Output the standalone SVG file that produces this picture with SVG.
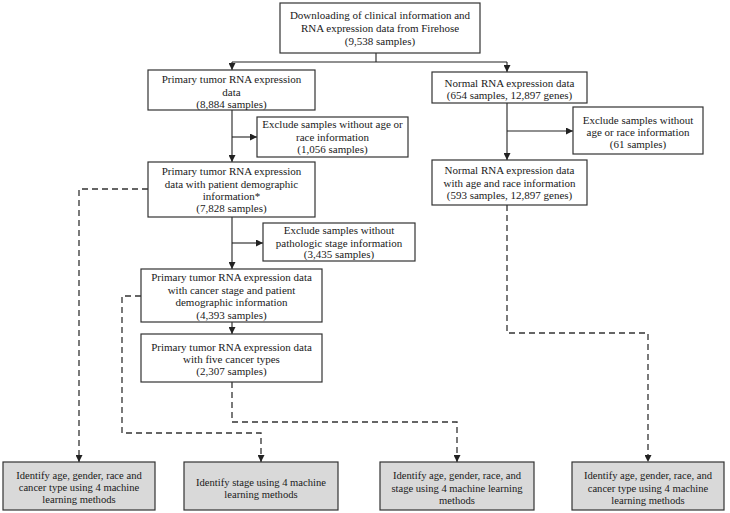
<svg xmlns="http://www.w3.org/2000/svg" width="730" height="513" viewBox="0 0 730 513">
<defs>
<marker id="ah" markerUnits="userSpaceOnUse" markerWidth="7" markerHeight="7" refX="7" refY="3.5" orient="auto">
<path d="M0,0 L7,3.5 L0,7 z" fill="#222"/>
</marker>
<style>
.b{fill:#fff;stroke:#333;stroke-width:1.2}
.g{fill:#d9d9d9;stroke:#333;stroke-width:1.2}
text{font-family:"Liberation Serif","Times New Roman",serif;font-size:11px;fill:#1a1a1a;text-anchor:middle}
.o text{font-size:10.6px}
.s{fill:none;stroke:#222;stroke-width:1.1}
.d{fill:none;stroke:#333;stroke-width:1.3;stroke-dasharray:6,4}
</style>
</defs>
<rect width="730" height="513" fill="#fff"/>
<g id="connectors">
<path class="s" d="M376,53 V62 M232,62 H507"/>
<path class="s" d="M232,62 V70" marker-end="url(#ah)"/>
<path class="s" d="M507,62 V72" marker-end="url(#ah)"/>
<path class="s" d="M232,110 V162" marker-end="url(#ah)"/>
<path class="s" d="M232,137 H257" marker-end="url(#ah)"/>
<path class="s" d="M232,217 V269" marker-end="url(#ah)"/>
<path class="s" d="M232,243 H263" marker-end="url(#ah)"/>
<path class="s" d="M232,322 V334" marker-end="url(#ah)"/>
<path class="s" d="M507,103 V160" marker-end="url(#ah)"/>
<path class="s" d="M507,131 H573" marker-end="url(#ah)"/>
<path class="d" d="M148,189 H79 V462" marker-end="url(#ah)"/>
<path class="d" d="M141,296 H122 V433 H261 V462" marker-end="url(#ah)"/>
<path class="d" d="M232,382 V422 H457 V462" marker-end="url(#ah)"/>
<path class="d" d="M507,205 V333 H648 V462" marker-end="url(#ah)"/>
</g>
<g id="n-download">
<rect class="b" x="280" y="3" width="200" height="50"/>
<text x="380" y="19">Downloading of clinical information and</text>
<text x="380" y="32">RNA expression data from Firehose</text>
<text x="380" y="45">(9,538 samples)</text>
</g>
<g id="n-primary">
<rect class="b" x="148" y="70" width="167" height="40"/>
<text x="231.5" y="83">Primary tumor RNA expression</text>
<text x="231.5" y="96">data</text>
<text x="231.5" y="108">(8,884 samples)</text>
</g>
<g id="n-excl1">
<rect class="b" x="257" y="117" width="151" height="40"/>
<text x="332.5" y="128">Exclude samples without age or</text>
<text x="332.5" y="141">race information</text>
<text x="332.5" y="153">(1,056 samples)</text>
</g>
<g id="n-primary-demo">
<rect class="b" x="148" y="162" width="167" height="55"/>
<text x="231.5" y="175">Primary tumor RNA expression</text>
<text x="231.5" y="188">data with patient demographic</text>
<text x="231.5" y="200">information*</text>
<text x="231.5" y="212">(7,828 samples)</text>
</g>
<g id="n-excl3">
<rect class="b" x="263" y="223" width="152" height="38"/>
<text x="339" y="234">Exclude samples without</text>
<text x="339" y="247">pathologic stage information</text>
<text x="339" y="258">(3,435 samples)</text>
</g>
<g id="n-stage">
<rect class="b" x="141" y="269" width="181" height="53"/>
<text x="231.5" y="281">Primary tumor RNA expression data</text>
<text x="231.5" y="294">with cancer stage and patient</text>
<text x="231.5" y="306">demographic information</text>
<text x="231.5" y="319">(4,393 samples)</text>
</g>
<g id="n-five">
<rect class="b" x="141" y="334" width="181" height="48"/>
<text x="231.5" y="351">Primary tumor RNA expression data</text>
<text x="231.5" y="363">with five cancer types</text>
<text x="231.5" y="375">(2,307 samples)</text>
</g>
<g id="n-normal">
<rect class="b" x="432" y="72" width="155" height="31"/>
<text x="509.5" y="87">Normal RNA expression data</text>
<text x="509.5" y="99">(654 samples, 12,897 genes)</text>
</g>
<g id="n-excl2">
<rect class="b" x="573" y="107" width="130" height="47"/>
<text x="638" y="124">Exclude samples without</text>
<text x="638" y="136">age or race information</text>
<text x="638" y="148">(61 samples)</text>
</g>
<g id="n-normal-demo">
<rect class="b" x="432" y="160" width="155" height="45"/>
<text x="509.5" y="174">Normal RNA expression data</text>
<text x="509.5" y="187">with age and race information</text>
<text x="509.5" y="199">(593 samples, 12,897 genes)</text>
</g>
<g id="n-out1" class="o">
<rect class="g" x="3" y="462" width="152" height="48"/>
<text x="79" y="479">Identify age, gender, race and</text>
<text x="79" y="491">cancer type using 4 machine</text>
<text x="79" y="503">learning methods</text>
</g>
<g id="n-out2" class="o">
<rect class="g" x="184" y="462" width="154" height="48"/>
<text x="261" y="486">Identify stage using 4 machine</text>
<text x="261" y="498">learning methods</text>
</g>
<g id="n-out3" class="o">
<rect class="g" x="380" y="462" width="154" height="48"/>
<text x="457" y="479">Identify age, gender, race, and</text>
<text x="457" y="492">stage using 4 machine learning</text>
<text x="457" y="504">methods</text>
</g>
<g id="n-out4" class="o">
<rect class="g" x="572" y="462" width="152" height="48"/>
<text x="648" y="479">Identify age, gender, race, and</text>
<text x="648" y="492">cancer type using 4 machine</text>
<text x="648" y="504">learning methods</text>
</g>
</svg>
